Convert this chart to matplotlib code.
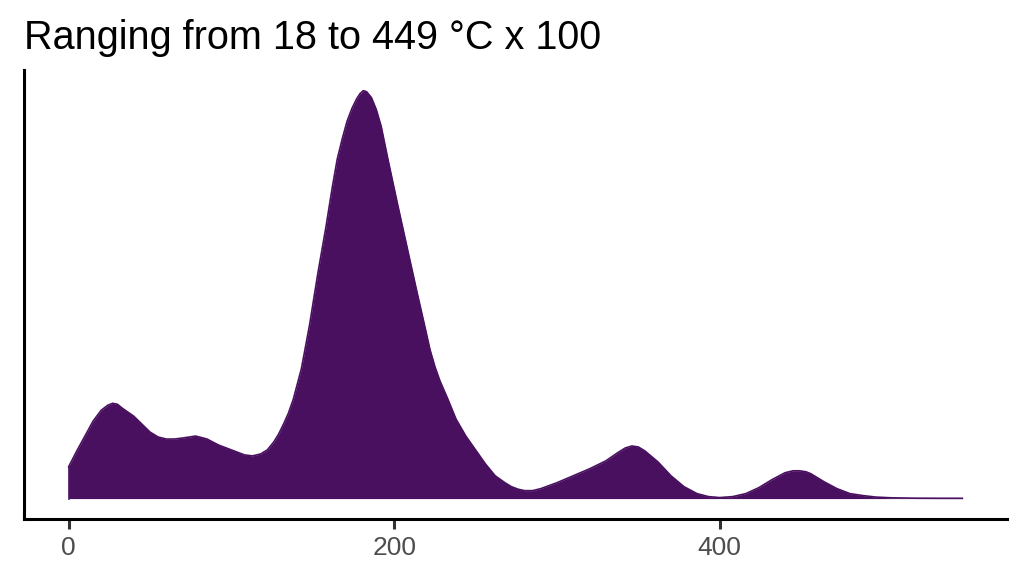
import matplotlib
matplotlib.use('Agg')
import matplotlib.pyplot as plt

plt.rcParams['font.family'] = ['Liberation Sans', 'DejaVu Sans']

# x values (temperature x 100) and density heights
temp = [0, 5, 10, 15, 20, 24, 27, 30, 33, 40, 45, 50, 55, 60, 65, 70, 78,
        85, 92, 100, 108, 113, 118, 122, 126, 129, 132, 135, 138, 143, 148,
        153, 158, 162, 165, 168, 171, 174, 177, 179, 181, 183, 186, 189, 192,
        196, 202, 209, 214, 219, 222, 225, 228, 233, 238, 244, 250, 256, 262,
        268, 272, 276, 280, 285, 290, 300, 310, 320, 330, 338, 342, 346, 350,
        354, 362, 370, 378, 386, 393, 400, 408, 416, 424, 432, 440, 445, 449,
        453, 456, 464, 472, 480, 488, 496, 505, 520, 535, 549]
density = [32, 48, 63, 78, 89, 94, 96, 95, 91, 83, 75, 67, 62, 60, 60, 61, 63,
           60, 54, 49, 44, 43, 45, 49, 57, 65, 75, 86, 100, 131, 175,
           226, 273, 314, 342, 362, 380, 393, 403, 408, 411, 410, 404, 392, 375,
           343, 297, 245, 208, 172, 150, 133, 119, 100, 80, 63, 49, 35, 23,
           16, 12, 9.5, 8, 8, 10, 16, 23, 30, 38, 47, 51, 53, 52,
           48, 37, 23, 12, 5, 2, 1, 2, 5, 11, 19, 26, 28, 28,
           27, 25, 17, 10, 5, 3, 1.5, 0.8, 0.4, 0.3, 0.3]
xticks = [0, 200, 400]
title = 'Ranging from 18 to 449 °C x 100'
fill_col = '#4A1060'

fig = plt.figure(figsize=(10.24, 5.76), dpi=100)
ax = fig.add_axes([0.0234, 0.099, 0.96, 0.779])

ax.fill_between(temp, 0, density, color=fill_col, linewidth=0)
ax.plot(temp, density, color=fill_col, linewidth=1.2, solid_joinstyle='round')
ax.plot([temp[0], temp[0]], [0, density[0]], color=fill_col, linewidth=1.2)

span = temp[-1] - temp[0]
ax.set_xlim(temp[0] - 0.05 * span, temp[-1] + 0.05 * span)
top = max(density)
ax.set_ylim(-0.05 * top, top * 1.05)

ax.set_xticks(xticks)
ax.set_xticklabels([str(t) for t in xticks])
ax.set_yticks([])
ax.tick_params(axis='x', length=7, width=2.2, color='#333333',
               labelsize=19, labelcolor='#4D4D4D', pad=5)

for s in ['top', 'right']:
  ax.spines[s].set_visible(False)
for s in ['left', 'bottom']:
  ax.spines[s].set_linewidth(2.2)
  ax.spines[s].set_color('black')

fig.text(0.0234, 0.915, title, fontsize=28.5, ha='left', va='baseline')

plt.savefig('out.png', dpi=100)
